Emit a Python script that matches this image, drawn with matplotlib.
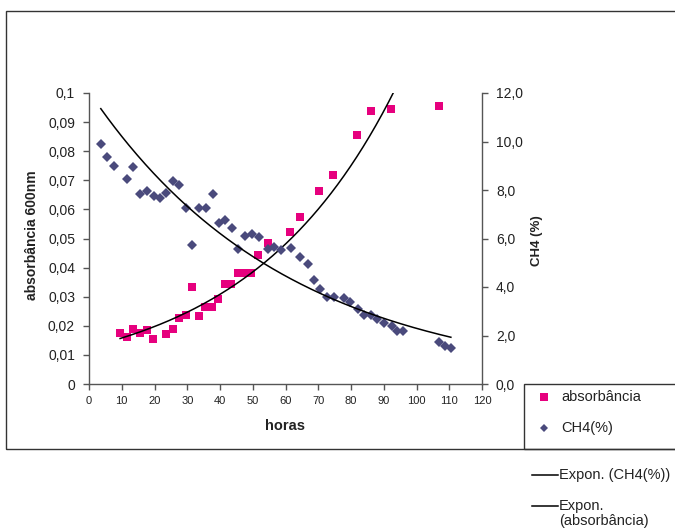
import numpy as np
import matplotlib
matplotlib.use("Agg")
import matplotlib.pyplot as plt
from matplotlib.patches import Rectangle
from matplotlib.lines import Line2D
from matplotlib.ticker import FixedLocator, FuncFormatter

plt.rcParams['font.family'] = ['Liberation Sans', 'DejaVu Sans']

# absorbância (left axis)
abs_hours = [9.5, 11.6, 13.5, 15.6, 17.7, 19.6, 23.5, 25.7, 27.5, 29.6, 31.5, 33.6, 35.4,
             37.5, 39.5, 41.5, 43.5, 45.5, 47.5, 49.5, 51.6, 54.6, 61.5, 64.5, 70.3,
             74.5, 81.9, 86.0, 92.2, 106.8]
abs_vals = [0.0174, 0.0163, 0.0188, 0.0176, 0.0186, 0.0154, 0.0172, 0.0190, 0.0227, 0.0237,
            0.0332, 0.0235, 0.0266, 0.0266, 0.0291, 0.0344, 0.0344, 0.0382, 0.0382, 0.0382,
            0.0443, 0.0484, 0.0523, 0.0573, 0.0663, 0.0717, 0.0856, 0.0937, 0.0946, 0.0955]

# CH4(%) (right axis)
ch4_hours = [3.6, 5.6, 7.6, 11.7, 13.5, 15.7, 17.7, 19.7, 21.7, 23.6, 25.7, 27.6, 29.7,
             31.5, 33.6, 35.7, 37.8, 39.7, 41.5, 43.8, 45.5, 47.6, 49.7, 51.9, 54.6,
             56.6, 58.7, 61.7, 64.5, 66.8, 68.8, 70.5, 72.8, 74.7, 77.8, 79.7, 82.0,
             84.1, 86.0, 88.0, 90.2, 92.4, 94.0, 95.8, 106.9, 108.8, 110.5]
ch4_vals = [9.88, 9.37, 8.99, 8.45, 8.95, 7.84, 7.96, 7.77, 7.67, 7.86, 8.38, 8.22, 7.24,
            5.73, 7.27, 7.27, 7.84, 6.64, 6.76, 6.42, 5.55, 6.10, 6.17, 6.08, 5.55,
            5.64, 5.53, 5.60, 5.22, 4.95, 4.29, 3.90, 3.60, 3.57, 3.53, 3.37, 3.08,
            2.83, 2.83, 2.69, 2.53, 2.40, 2.19, 2.20, 1.75, 1.57, 1.47]

x_ticks = list(range(0, 121, 10))
left_ticks = [0, 0.01, 0.02, 0.03, 0.04, 0.05, 0.06, 0.07, 0.08, 0.09, 0.1]
right_ticks = [0, 2, 4, 6, 8, 10, 12]

W, H = 675, 531
fig = plt.figure(figsize=(W / 100, H / 100), dpi=100)

def fx(px):
    return px / W

def fy(py):
    return 1 - py / H

# outer chart border
fig.patches.append(Rectangle((fx(6), fy(449)), fx(700) - fx(6), fy(11) - fy(449),
                             transform=fig.transFigure, fill=False, edgecolor='#333333',
                             linewidth=1.0))
# legend box
fig.patches.append(Rectangle((fx(524), fy(449)), fx(700) - fx(524), fy(384) - fy(449),
                             transform=fig.transFigure, fill=False, edgecolor='#333333',
                             linewidth=1.0))

ax = fig.add_axes([fx(89), fy(384), fx(482) - fx(89), fy(93) - fy(384)])
ax2 = ax.twinx()

pink = '#E6007E'
navy = '#4A4A7C'
axcol = '#555555'
txtcol = '#222222'

ax.plot(abs_hours, abs_vals, linestyle='none', marker='s', markersize=6,
        color=pink, markeredgewidth=0, zorder=3)
ax2.plot(ch4_hours, ch4_vals, linestyle='none', marker='D', markersize=5,
         color=navy, markeredgewidth=0, zorder=3)

# exponential trendlines (least squares on log values, like Excel)
b1, lna1 = np.polyfit(abs_hours, np.log(abs_vals), 1)
xa = np.linspace(min(abs_hours), max(abs_hours), 300)
ax.plot(xa, np.exp(lna1) * np.exp(b1 * xa), color='black', linewidth=1.1, zorder=4)

b2, lna2 = np.polyfit(ch4_hours, np.log(ch4_vals), 1)
xc = np.linspace(min(ch4_hours), max(ch4_hours), 300)
ax2.plot(xc, np.exp(lna2) * np.exp(b2 * xc), color='black', linewidth=1.1, zorder=4)

ax.set_xlim(0, 120)
ax.set_ylim(0, 0.1)
ax2.set_ylim(0, 12)

ax.xaxis.set_major_locator(FixedLocator(x_ticks))
ax.yaxis.set_major_locator(FixedLocator(left_ticks))
ax2.yaxis.set_major_locator(FixedLocator(right_ticks))

def left_fmt(v, pos):
    if abs(v) < 1e-9:
        return '0'
    s = ('%.2f' % v).rstrip('0')
    return s.replace('.', ',')

ax.yaxis.set_major_formatter(FuncFormatter(left_fmt))
ax2.yaxis.set_major_formatter(FuncFormatter(lambda v, p: ('%.1f' % v).replace('.', ',')))
ax.xaxis.set_major_formatter(FuncFormatter(lambda v, p: '%d' % v))

for a in (ax, ax2):
    a.spines['top'].set_visible(False)
    for s in a.spines.values():
        s.set_color(axcol)
        s.set_linewidth(1.0)
    a.tick_params(colors=axcol, labelcolor=txtcol, length=4, width=1.0)
ax.spines['right'].set_visible(False)
ax2.spines['left'].set_visible(False)
ax2.spines['bottom'].set_visible(False)

ax.tick_params(axis='y', labelsize=10, pad=6)
ax2.tick_params(axis='y', labelsize=10, pad=6)
ax.tick_params(axis='x', labelsize=8, pad=5)

fig.text(fx(32), fy(235), 'absorbância 600nm', rotation=90, ha='center', va='center',
         fontsize=10, fontweight='bold', color=txtcol)
fig.text(fx(537), fy(241), 'CH4 (%)', rotation=90, ha='center', va='center',
         fontsize=9.5, fontweight='bold', color=txtcol)
fig.text(fx(285), fy(426), 'horas', ha='center', va='center',
         fontsize=10.5, fontweight='bold', color=txtcol)

# legend entries
fig.lines.append(Line2D([fx(544)], [fy(397)], transform=fig.transFigure, marker='s',
                        markersize=5.5, color=pink, markeredgewidth=0, linestyle='none'))
fig.text(fx(561), fy(397), 'absorbância', ha='left', va='center', fontsize=10.5, color=txtcol)
fig.lines.append(Line2D([fx(544)], [fy(428)], transform=fig.transFigure, marker='D',
                        markersize=4.5, color=navy, markeredgewidth=0, linestyle='none'))
fig.text(fx(561), fy(428), 'CH4(%)', ha='left', va='center', fontsize=10.5, color=txtcol)

fig.lines.append(Line2D([fx(532), fx(558)], [fy(475), fy(475)], transform=fig.transFigure,
                        color='black', linewidth=1.1))
fig.text(fx(559), fy(475), 'Expon. (CH4(%))', ha='left', va='center', fontsize=10.5, color=txtcol)
fig.lines.append(Line2D([fx(532), fx(558)], [fy(506), fy(506)], transform=fig.transFigure,
                        color='black', linewidth=1.1))
fig.text(fx(559), fy(506), 'Expon.', ha='left', va='center', fontsize=10.5, color=txtcol)
fig.text(fx(559), fy(521), '(absorbância)', ha='left', va='center', fontsize=10.5, color=txtcol)

fig.savefig('out.png', dpi=100, facecolor='white')
